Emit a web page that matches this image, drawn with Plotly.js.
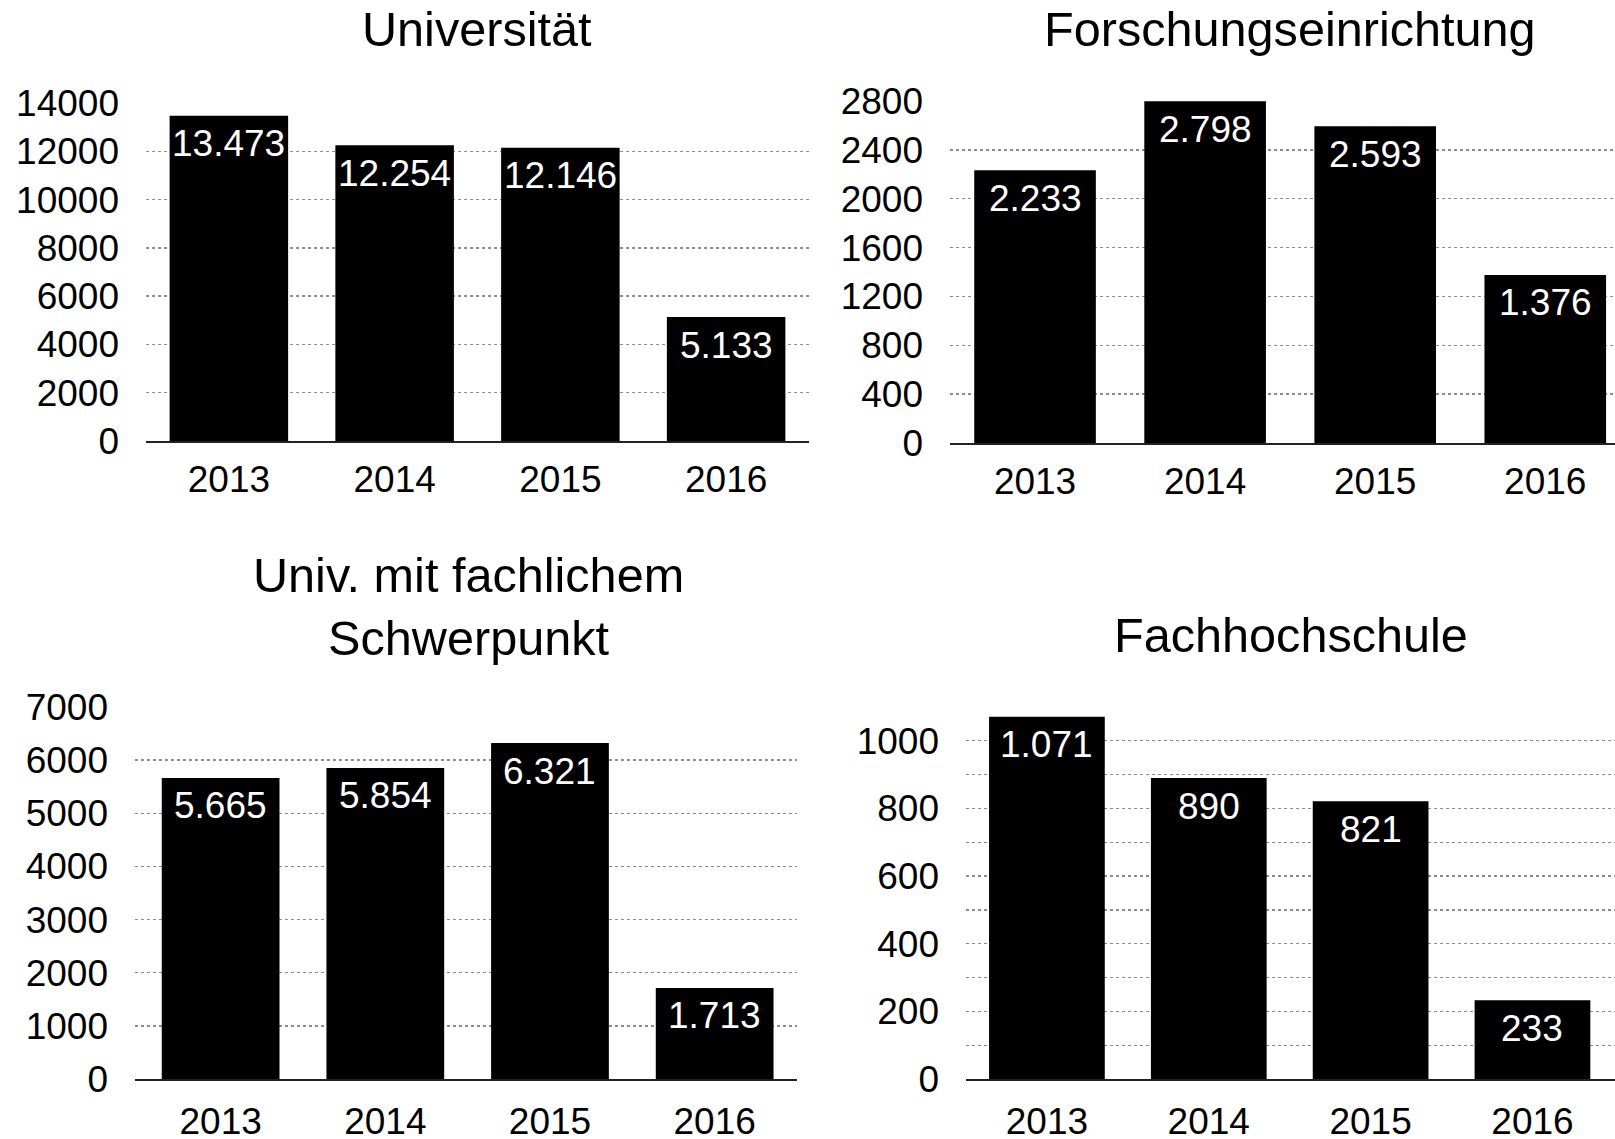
<!DOCTYPE html>
<html>
<head>
<meta charset="utf-8">
<script src="https://cdn.plot.ly/plotly-3.0.1.min.js"></script>
<style>html,body{margin:0;padding:0;background:#fff;}#chart{width:1615px;height:1139px;}</style>
</head>
<body>
<div id="chart"></div>
<script>
const years = ['2013', '2014', '2015', '2016'];
const universitaet = [13473, 12254, 12146, 5133];
const forschung = [2233, 2798, 2593, 1376];
const univFach = [5665, 5854, 6321, 1713];
const fachhochschule = [1071, 890, 821, 233];

const titles = ['Universität', 'Forschungseinrichtung', 'Univ. mit fachlichem<br>Schwerpunkt', 'Fachhochschule'];

const tickVals1 = [0, 2000, 4000, 6000, 8000, 10000, 12000, 14000];
const tickVals2 = [0, 400, 800, 1200, 1600, 2000, 2400, 2800];
const tickVals3 = [0, 1000, 2000, 3000, 4000, 5000, 6000, 7000];
const tickVals4 = [0, 100, 200, 300, 400, 500, 600, 700, 800, 900, 1000, 1100];
const tickText4 = ['0', '', '200', '', '400', '', '600', '', '800', '', '1000', ''];

const FONT = '"Liberation Sans", Arial, Helvetica, sans-serif';
const TICK = 37;

function fmt(v) {
  return String(v).replace(/\B(?=(\d{3})+(?!\d))/g, '.');
}

const series = [universitaet, forschung, univFach, fachhochschule];
const traces = series.map((vals, i) => ({
  type: 'bar',
  x: years,
  y: vals,
  xaxis: i === 0 ? 'x' : 'x' + (i + 1),
  yaxis: i === 0 ? 'y' : 'y' + (i + 1),
  marker: {color: '#000000'},
  width: 0.715,
  hoverinfo: 'x+y',
  showlegend: false
}));

function xax(domain, range, standoff) {
  return {
    domain: domain, type: 'category', range: range,
    showgrid: false, zeroline: false,
    showline: true, linecolor: '#222', linewidth: 2,
    ticks: '', ticklabelstandoff: standoff,
    tickfont: {family: FONT, size: TICK, color: '#000'},
    fixedrange: true
  };
}
function yax(domain, range, vals, text) {
  const a = {
    domain: domain, range: range,
    tickmode: 'array', tickvals: vals,
    showgrid: true, gridcolor: '#8c8c8c', griddash: '3px,3px', gridwidth: 1.3,
    zeroline: false, showline: false, ticks: '',
    ticklabelstandoff: 26,
    tickfont: {family: FONT, size: TICK, color: '#000'},
    fixedrange: true
  };
  if (text) a.ticktext = text; else a.ticktext = vals.map(String);
  return a;
}

const annotations = [];
const axNames = ['', '2', '3', '4'];
series.forEach((vals, i) => {
  vals.forEach((v, j) => {
    annotations.push({
      xref: 'x' + axNames[i], yref: 'y' + axNames[i],
      x: j, y: v, text: fmt(v), showarrow: false,
      xanchor: 'center', yanchor: 'middle', yshift: -28,
      font: {family: FONT, size: TICK, color: '#ffffff'}
    });
  });
});

const titlePos = [[477, 29], [1290, 29], [468, 606], [1291, 635]];
titles.forEach((t, i) => {
  annotations.push({
    xref: 'paper', yref: 'paper',
    x: titlePos[i][0] / 1615, y: 1 - titlePos[i][1] / 1139,
    xanchor: 'center', yanchor: 'middle',
    text: t, showarrow: false,
    font: {family: FONT, size: 48.6, color: '#000'}
  });
});

const layout = {
  width: 1615, height: 1139,
  margin: {l: 0, r: 0, t: 0, b: 0},
  paper_bgcolor: '#ffffff', plot_bgcolor: '#ffffff',
  font: {family: FONT, color: '#000'},
  showlegend: false,
  xaxis: xax([146 / 1615, 809 / 1615], [-0.5, 3.5], 5),
  yaxis: yax([1 - 441 / 1139, 1 - 103 / 1139], [0, 14000], tickVals1),
  xaxis2: xax([950 / 1615, 1], [-0.5, 3.41], 5),
  yaxis2: yax([1 - 443 / 1139, 1 - 101 / 1139], [0, 2800], tickVals2),
  xaxis3: xax([135 / 1615, 797 / 1615], [-0.52, 3.5], 9),
  yaxis3: yax([1 - 1079 / 1139, 1 - 707 / 1139], [0, 7000], tickVals3),
  xaxis4: xax([966 / 1615, 1], [-0.5, 3.51], 9),
  yaxis4: yax([1 - 1079 / 1139, 1 - 707 / 1139], [0, 1100], tickVals4, tickText4),
  annotations: annotations
};
layout.xaxis.anchor = 'y';
layout.xaxis2.anchor = 'y2';
layout.xaxis3.anchor = 'y3';
layout.xaxis4.anchor = 'y4';
layout.yaxis.anchor = 'x';
layout.yaxis2.anchor = 'x2';
layout.yaxis3.anchor = 'x3';
layout.yaxis4.anchor = 'x4';

Plotly.newPlot('chart', traces, layout, {displayModeBar: false, staticPlot: true});
</script>
</body>
</html>
